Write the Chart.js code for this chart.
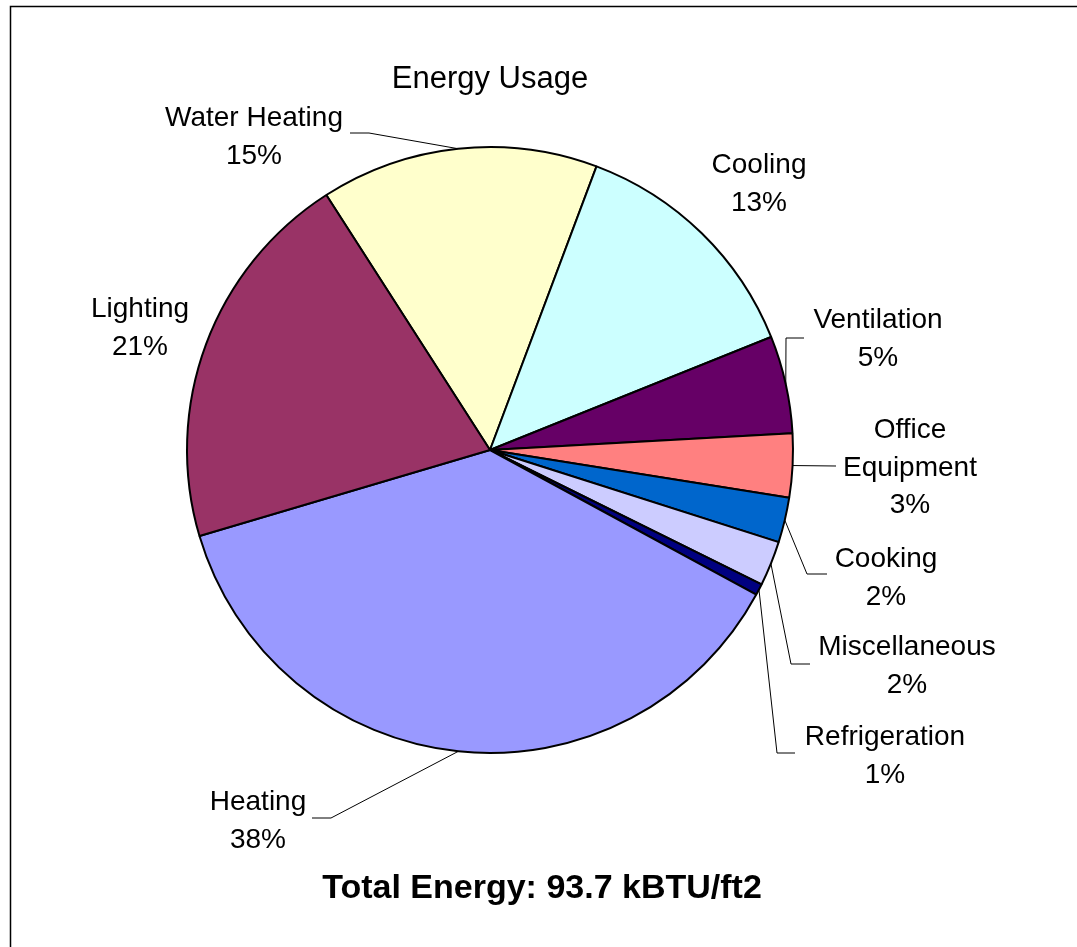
<!DOCTYPE html>
<html>
<head>
<meta charset="utf-8">
<title>Energy Usage</title>
<script src="https://cdn.jsdelivr.net/npm/chart.js@4.4.0/dist/chart.umd.min.js"></script>
<style>
  html, body { margin: 0; padding: 0; background: #fff; }
  #wrap { width: 1077px; height: 947px; }
</style>
</head>
<body>
<div id="wrap"><canvas id="energyChart" width="1077" height="947"></canvas></div>
<script>
// data, percent of total energy (slices go clockwise from Water Heating)
const categories = ['Water Heating', 'Cooling', 'Ventilation', 'Office Equipment', 'Cooking',
    'Miscellaneous', 'Refrigeration', 'Heating', 'Lighting'];
const shares = [14.8, 13.2, 5.2, 3.4, 2.4, 2.4, 0.6, 37.5, 20.5];
const sliceColors = ['#FFFFCC', '#CCFFFF', '#660066', '#FF8080', '#0066CC',
    '#CCCCFF', '#000080', '#9999FF', '#993366'];
const chartTitle = 'Energy Usage';
const totalNote = 'Total Energy: 93.7 kBTU/ft2';

const FONT = '"Liberation Sans", Arial, Helvetica, sans-serif';

// label placement, offsets from pie centre (tx = text centre, ty = first baseline)
// elbow/end = leader line points, null when the label has no leader
const labelLayout = [
    { tx: -236, ty: -324, elbow: [-121, -317], end: [-140, -317] },
    { tx: 269, ty: -277, elbow: null, end: null },
    { tx: 388, ty: -122, elbow: [296, -112], end: [314, -112] },
    { tx: 420, ty: -12, wrap: true, elbow: null, end: [346, 16] },
    { tx: 396, ty: 117, elbow: [317, 124], end: [337, 124] },
    { tx: 417, ty: 205, elbow: [301, 214], end: [320, 214] },
    { tx: 395, ty: 295, elbow: [287, 303], end: [305, 303] },
    { tx: -232, ty: 360, elbow: [-159, 368], end: [-178, 368] },
    { tx: -350, ty: -133, elbow: null, end: null }
];

const total = shares.reduce((a, b) => a + b, 0);

const pieLabels = {
    id: 'pieLabels',
    beforeDraw(chart) {
        const c = chart.ctx;
        c.save();
        c.fillStyle = '#fff';
        c.fillRect(0, 0, chart.width, chart.height);
        // chart frame (right and bottom edge fall outside the picture)
        c.strokeStyle = '#000';
        c.lineWidth = 1.5;
        c.strokeRect(10.5, 6.5, chart.width + 40, chart.height + 40);
        c.restore();
    },
    afterDatasetsDraw(chart) {
        const c = chart.ctx;
        const meta = chart.getDatasetMeta(0);
        c.save();
        meta.data.forEach((arc, i) => {
            const p = arc.getProps(['x', 'y', 'startAngle', 'endAngle', 'outerRadius'], true);
            const lay = labelLayout[i];
            const mid = (p.startAngle + p.endAngle) / 2;
            const ex = p.x + Math.cos(mid) * p.outerRadius;
            const ey = p.y + Math.sin(mid) * p.outerRadius;

            // leader line
            if (lay.end) {
                c.strokeStyle = '#000';
                c.lineWidth = 1;
                c.beginPath();
                c.moveTo(ex, ey);
                if (lay.elbow) c.lineTo(p.x + lay.elbow[0], p.y + lay.elbow[1]);
                c.lineTo(p.x + lay.end[0], p.y + lay.end[1]);
                c.stroke();
            }

            // label text
            const pct = Math.round(shares[i] / total * 100) + '%';
            const lines = lay.wrap ? categories[i].split(' ') : [categories[i]];
            lines.push(pct);
            c.fillStyle = '#000';
            c.font = '28px ' + FONT;
            c.textAlign = 'center';
            c.textBaseline = 'alphabetic';
            lines.forEach((t, k) => {
                c.fillText(t, p.x + lay.tx, p.y + lay.ty + k * 37.5);
            });
        });

        // title and footnote
        c.font = '31px ' + FONT;
        c.textAlign = 'center';
        c.fillText(chartTitle, 490, 88);
        c.font = 'bold 34px ' + FONT;
        c.fillText(totalNote, 542, 898);
        c.restore();
    }
};

const chart = new Chart(document.getElementById('energyChart'), {
    type: 'pie',
    data: {
        labels: categories,
        datasets: [{
            data: shares,
            backgroundColor: sliceColors,
            borderColor: '#000',
            borderWidth: 2
        }]
    },
    options: {
        responsive: false,
        animation: false,
        rotation: -32.7,
        layout: {
            padding: { left: 186, right: 283, top: 146, bottom: 193 }
        },
        plugins: {
            legend: { display: false },
            tooltip: { enabled: false }
        }
    },
    plugins: [pieLabels]
});
</script>
</body>
</html>
